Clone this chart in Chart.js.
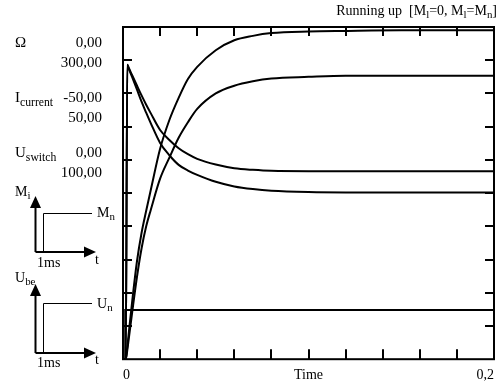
<!DOCTYPE html>
<html>
<head>
<meta charset="utf-8">
<script src="https://cdn.jsdelivr.net/npm/chart.js@4.4.1/dist/chart.umd.min.js"></script>
<style>
  body { margin: 0; background: #fff; }
  #wrap { position: relative; width: 502px; height: 383px; font-family: "Liberation Serif", "Times New Roman", serif; color: #000; }
  canvas { position: absolute; left: 0; top: 0; }
  .lbl { position: absolute; font-size: 15px; line-height: 15px; white-space: nowrap; }
  .petit { font-size: 14px; line-height: 14px; }
  sub { font-size: 0.78em; vertical-align: -0.3em; line-height: 0; }
</style>
</head>
<body>
<div id="wrap">
  <canvas id="chart" width="502" height="383"></canvas>

  <!-- titre -->
  <div class="lbl" style="right:5px; top:3px; font-size:14px;">Running up&nbsp; [M<sub>l</sub>=0, M<sub>l</sub>=M<sub>n</sub>]</div>

  <!-- légende des axes à gauche -->
  <div class="lbl" style="left:15px; top:35px;">&Omega;</div>
  <div class="lbl" style="right:400px; top:35px;">0,00</div>
  <div class="lbl" style="right:400px; top:55px;">300,00</div>

  <div class="lbl" style="left:15px; top:90px;">I<sub>current</sub></div>
  <div class="lbl" style="right:400px; top:90px;">-50,00</div>
  <div class="lbl" style="right:400px; top:110px;">50,00</div>

  <div class="lbl" style="left:15px; top:145px;">U<sub>switch</sub></div>
  <div class="lbl" style="right:400px; top:145px;">0,00</div>
  <div class="lbl" style="right:400px; top:165px;">100,00</div>

  <!-- petits schémas -->
  <div class="lbl petit" style="left:15px; top:185px;">M<sub>i</sub></div>
  <div class="lbl petit" style="left:97px; top:206px;">M<sub>n</sub></div>
  <div class="lbl petit" style="left:37px; top:256px;">1ms</div>
  <div class="lbl petit" style="left:95px; top:253px;">t</div>

  <div class="lbl petit" style="left:15px; top:271px;">U<sub>be</sub></div>
  <div class="lbl petit" style="left:97px; top:297px;">U<sub>n</sub></div>
  <div class="lbl petit" style="left:37px; top:356px;">1ms</div>
  <div class="lbl petit" style="left:95px; top:353px;">t</div>
</div>

<script>
// temps (s)
const times = [0, 0.0015, 0.0023, 0.003, 0.005, 0.0075, 0.01, 0.0125, 0.015, 0.02, 0.025,
  0.03, 0.035, 0.04, 0.05, 0.06, 0.07, 0.08, 0.1, 0.12, 0.15, 0.2];

// vitesse Omega, à vide et en charge
const omegaNoLoad = [0, 0, 11, 22, 53, 88, 114, 134, 153, 190, 216,
  236, 253, 264, 279, 288, 292, 294.5, 296, 296.5, 297, 297];
const omegaLoad = [0, 0, 8, 17, 43, 74, 100, 120, 135, 163, 182,
  200, 214, 226, 240, 247, 251, 253.5, 255, 256, 256, 256];

// courant, à vide et en charge
const currentNoLoad = [-50, -50, 38.6, 37.6, 34.8, 31.2, 27.5, 24.2, 21.0, 15.1, 11.4,
  8.5, 6.8, 5.5, 3.4, 2.0, 1.2, 0.7, 0.3, 0.2, 0.2, 0.2];
const currentLoad = [-50, -50, 38.6, 37.8, 35.4, 32.4, 29.4, 26.6, 24.0, 19.0, 16.0,
  13.5, 11.7, 10.3, 8.6, 7.5, 7.0, 6.7, 6.6, 6.6, 6.6, 6.6];

// tension de commutation (échelon à 1ms)
const switchTimes = [0, 0.0012, 0.0012, 0.2];
const switchValues = [0, 0, 14.8, 14.8];

// graduations
const timeTicks = [0, 0.02, 0.04, 0.06, 0.08, 0.1, 0.12, 0.14, 0.16, 0.18, 0.2];
const timeLabels = ['0', '', '', '', '', 'Time', '', '', '', '', '0,2'];
const omegaTicks = [0, 30, 60, 90, 120, 150, 180, 210, 240, 270, 300];

function serie(xs, ys) {
  return xs.map((x, i) => ({ x: x, y: ys[i] }));
}

function fleche(ctx, x1, y1, x2, y2) {
  // trait + pointe pleine
  const ang = Math.atan2(y2 - y1, x2 - x1);
  const L = 12, W = 5.5;
  const bx = x2 - L * Math.cos(ang), by = y2 - L * Math.sin(ang);
  ctx.beginPath();
  ctx.moveTo(x1, y1);
  ctx.lineTo(bx, by);
  ctx.stroke();
  ctx.beginPath();
  ctx.moveTo(x2, y2);
  ctx.lineTo(bx + W * Math.sin(ang), by - W * Math.cos(ang));
  ctx.lineTo(bx - W * Math.sin(ang), by + W * Math.cos(ang));
  ctx.closePath();
  ctx.fill();
}

// cadre, graduations intérieures et petits schémas
const cadre = {
  id: 'cadre',
  afterDraw(chart) {
    const { ctx, chartArea: a, scales } = chart;
    ctx.save();
    ctx.strokeStyle = '#000';
    ctx.fillStyle = '#000';
    ctx.lineWidth = 2;
    ctx.strokeRect(a.left, a.top, a.right - a.left, a.bottom - a.top);

    ctx.beginPath();
    timeTicks.slice(1, -1).forEach(v => {
      const px = Math.round(scales.x.getPixelForValue(v));
      ctx.moveTo(px, a.bottom);
      ctx.lineTo(px, a.bottom - 10);
      ctx.moveTo(px, a.top);
      ctx.lineTo(px, a.top + 9);
    });
    omegaTicks.slice(1, -1).forEach(v => {
      const py = Math.round(scales.yO.getPixelForValue(v));
      ctx.moveTo(a.left, py);
      ctx.lineTo(a.left + 9, py);
      ctx.moveTo(a.right, py);
      ctx.lineTo(a.right - 9, py);
    });
    ctx.stroke();

    // schémas M_i et U_be
    ctx.lineWidth = 2;
    fleche(ctx, 35.5, 252, 35.5, 196);
    fleche(ctx, 35.5, 252, 96, 252);
    fleche(ctx, 35.5, 353, 35.5, 284);
    fleche(ctx, 35.5, 353, 96, 353);
    ctx.lineWidth = 1;
    ctx.beginPath();
    ctx.moveTo(43.5, 252); ctx.lineTo(43.5, 213.5); ctx.lineTo(92, 213.5);
    ctx.moveTo(43.5, 353); ctx.lineTo(43.5, 303.5); ctx.lineTo(92, 303.5);
    ctx.stroke();
    ctx.restore();
  }
};

const courbe = (data, axe, lisse) => ({
  data: data,
  yAxisID: axe,
  borderColor: '#000',
  borderWidth: 2,
  pointRadius: 0,
  fill: false,
  cubicInterpolationMode: lisse ? 'monotone' : 'default',
  tension: 0
});

new Chart(document.getElementById('chart'), {
  type: 'line',
  data: {
    datasets: [
      courbe(serie(times, omegaNoLoad), 'yO', true),
      courbe(serie(times, omegaLoad), 'yO', true),
      courbe(serie(times, currentNoLoad), 'yI', true),
      courbe(serie(times, currentLoad), 'yI', true),
      courbe(serie(switchTimes, switchValues), 'yU', false)
    ]
  },
  options: {
    responsive: false,
    animation: false,
    layout: { padding: { left: 123, right: 3, top: 27, bottom: -9 } },
    plugins: { legend: { display: false }, tooltip: { enabled: false }, title: { display: false } },
    scales: {
      x: {
        type: 'linear',
        min: 0,
        max: 0.2,
        grid: { display: false, drawTicks: false },
        border: { display: false },
        afterBuildTicks: axis => { axis.ticks = timeTicks.map(v => ({ value: v })); },
        ticks: {
          autoSkip: false,
          maxRotation: 0,
          align: 'inner',
          padding: 8,
          color: '#000',
          font: { family: 'Liberation Serif', size: 14 },
          callback: (v, i) => timeLabels[i]
        }
      },
      yO: { display: false, min: 0, max: 300 },
      yI: { display: false, min: -50, max: 50 },
      yU: { display: false, min: 0, max: 100 }
    }
  },
  plugins: [cadre]
});
</script>
</body>
</html>
